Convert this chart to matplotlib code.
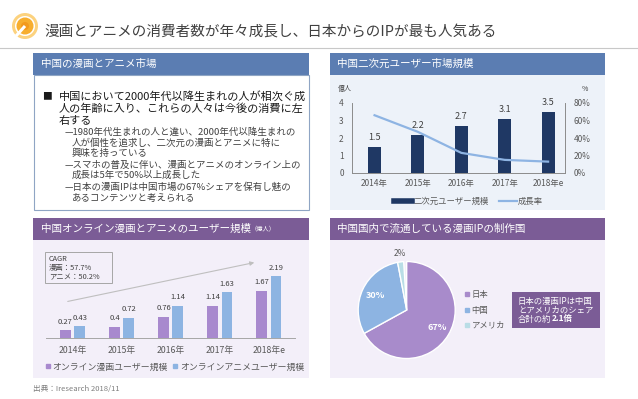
import matplotlib
matplotlib.use('Agg')
import matplotlib.pyplot as plt
from matplotlib.patches import Rectangle, Circle
from matplotlib.lines import Line2D
import numpy as np

plt.rcParams['font.family'] = ['Noto Sans CJK JP', 'DejaVu Sans']

# ---- data ----
years = ['2014年', '2015年', '2016年', '2017年', '2018年e']
acgUsers = [1.5, 2.2, 2.7, 3.1, 3.5]          # 億人
acgGrowth = [0.66, 0.47, 0.23, 0.15, 0.13]    # 成長率
mangaUsers = [0.27, 0.4, 0.76, 1.14, 1.67]    # 億人
animeUsers = [0.43, 0.72, 1.14, 1.63, 2.19]   # 億人
ipCountries = ['日本', '中国', 'アメリカ']
ipShare = [0.67, 0.30, 0.02]

W, H = 638, 399
blueHead = '#5B7DB2'
purpleHead = '#7B5C96'
grayText = '#595959'


def pxRect(x0, y0, x1, y1):
    # pixel box (top-left origin) -> figure fraction
    return [x0 / W, 1 - y1 / H, (x1 - x0) / W, (y1 - y0) / H]


fig = plt.figure(figsize=(W / 100, H / 100), dpi=100)
fig.patch.set_facecolor('white')
bg = fig.add_axes([0, 0, 1, 1])
bg.set_xlim(0, W)
bg.set_ylim(H, 0)
bg.axis('off')

# logo + title
bg.add_patch(Circle((25, 26), 13, color='#FCD27E', lw=0))
bg.add_patch(Circle((25, 26), 10, color='white', lw=0))
bg.add_patch(Circle((25, 26), 8.5, color='#F7AE2E', lw=0))
bg.add_patch(Circle((25, 26), 4, color='#F39A1E', lw=0))
bg.plot([25, 16], [26, 36], color='white', lw=2.2, solid_capstyle='butt')
bg.text(44, 32, '漫画とアニメの消費者数が年々成長し、日本からのIPが最も人気ある',
        fontsize=10.5, color='#404040', va='center')
bg.plot([0, W], [48, 48], color='#C8C8C8', lw=0.8)

# panel frames
bg.add_patch(Rectangle((33, 53), 276, 22, color=blueHead, lw=0))
bg.add_patch(Rectangle((33.5, 75), 275, 135, facecolor='white', edgecolor='#8FA5C4', lw=0.8))
bg.add_patch(Rectangle((330, 53), 275, 22, color=blueHead, lw=0))
bg.add_patch(Rectangle((330, 75), 275, 135, color='#EDF2F9', lw=0))
bg.add_patch(Rectangle((33, 218), 276, 22, color=purpleHead, lw=0))
bg.add_patch(Rectangle((33, 240), 276, 138, color='#F3EFF9', lw=0))
bg.add_patch(Rectangle((330, 218), 275, 22, color=purpleHead, lw=0))
bg.add_patch(Rectangle((330, 240), 275, 138, color='#F3EFF9', lw=0))

bg.text(41, 64, '中国の漫画とアニメ市場', color='white', fontsize=7.6, va='center')
bg.text(337, 64, '中国二次元ユーザー市場規模', color='white', fontsize=7.6, va='center')
hdr = bg.text(41, 229, '中国オンライン漫画とアニメのユーザー規模', color='white', fontsize=7.6, va='center')
bg.annotate('（億人）', xy=(1, 0.15), xycoords=hdr, color='white', fontsize=4.5, va='bottom')
bg.text(337, 229, '中国国内で流通している漫画IPの制作国', color='white', fontsize=7.6, va='center')

# text block
bg.text(42, 96, '■', fontsize=7, color='#1A1A1A', va='center')
mainLines = ['中国において2000年代以降生まれの人が相次ぐ成',
             '人の年齢に入り、これらの人々は今後の消費に左',
             '右する']
for i, s in enumerate(mainLines):
    bg.text(59, 96 + 12.5 * i, s, fontsize=8, color='#1A1A1A', va='center')
subLines = [(65, 132, '—1980年代生まれの人と違い、2000年代以降生まれの'),
            (72, 143, '人が個性を追求し、二次元の漫画とアニメに特に'),
            (72, 153, '興味を持っている'),
            (65, 165, '—スマホの普及に伴い、漫画とアニメのオンライン上の'),
            (72, 175, '成長は5年で50%以上成長した'),
            (65, 187, '—日本の漫画IPは中国市場の67%シェアを保有し魅の'),
            (72, 198, 'あるコンテンツと考えられる')]
for x0, y0, s in subLines:
    bg.text(x0, y0, s, fontsize=6.8, color='#404040', va='center')

bg.text(33, 389, '出典：Iresearch 2018/11', fontsize=5.5, color='#7F7F7F', va='center')

x = np.arange(len(years))

# ---- 中国二次元ユーザー市場規模 ----
ax1 = fig.add_axes(pxRect(352, 103, 565, 173))
ax1.patch.set_alpha(0)
ax1.bar(x, acgUsers, width=0.3, color='#1F3864', zorder=2)
for i, v in enumerate(acgUsers):
    ax1.annotate(str(v), (x[i], v), xytext=(0, 6.5), textcoords='offset points',
                 ha='center', va='center', fontsize=6.5, color='#404040')
ax1.set_xlim(-0.52, 4.39)
ax1.set_ylim(0, 4)
ax1.set_yticks([0, 1, 2, 3, 4])
ax1.set_xticks(x, years)
ax2 = ax1.twinx()
ax2.plot(x, acgGrowth, color='#8EB4E3', lw=1.6)
ax2.set_ylim(0, 0.8)
ax2.set_yticks([0, 0.2, 0.4, 0.6, 0.8], ['0%', '20%', '40%', '60%', '80%'])
for a in (ax1, ax2):
    a.tick_params(length=0, labelsize=6, labelcolor=grayText)
    a.spines['top'].set_visible(False)
    for sp in ('left', 'right', 'bottom'):
        a.spines[sp].set_color('#8C8C8C')
        a.spines[sp].set_linewidth(0.6)
ax1.tick_params(axis='y', pad=6)
ax2.tick_params(axis='y', pad=6)
ax1.tick_params(axis='x', pad=4)
bg.text(338, 89, '億人', fontsize=5, color='#404040', va='center')
bg.text(582, 89, '%', fontsize=5, color='#404040', va='center')
h1 = [Line2D([], [], color='#1F3864', lw=4), Line2D([], [], color='#8EB4E3', lw=1.6)]
ax1.legend(h1, ['二次元ユーザー規模', '成長率'], loc='center', bbox_to_anchor=(0.547, -0.4),
           ncol=2, frameon=False, fontsize=6, labelcolor=grayText, handlelength=2.2,
           handletextpad=0.1, columnspacing=1.2)

# ---- オンライン漫画とアニメのユーザー規模 ----
ax3 = fig.add_axes(pxRect(46, 252, 295, 338))
ax3.patch.set_alpha(0)
ax3.bar(x - 0.145, mangaUsers, 0.22, color='#A889CE')
ax3.bar(x + 0.145, animeUsers, 0.22, color='#8DB4E2')
for i in range(len(years)):
    ax3.annotate(str(mangaUsers[i]), (x[i] - 0.145, mangaUsers[i]), xytext=(0, 6),
                 textcoords='offset points', ha='center', va='center', fontsize=5.5, color='#404040')
    ax3.annotate(str(animeUsers[i]), (x[i] + 0.145, animeUsers[i]), xytext=(0, 6),
                 textcoords='offset points', ha='center', va='center', fontsize=5.5, color='#404040')
ax3.set_xlim(-0.54, 4.53)
ax3.set_ylim(0, 3.04)
ax3.set_yticks([])
ax3.set_xticks(x, years)
ax3.tick_params(length=0, labelsize=6.3, labelcolor=grayText, pad=6)
for sp in ('left', 'right', 'top'):
    ax3.spines[sp].set_visible(False)
ax3.spines['bottom'].set_color('#A6A6A6')
ax3.spines['bottom'].set_linewidth(0.7)
h3 = [Line2D([], [], marker='s', ms=3, ls='none', color='#A889CE'),
      Line2D([], [], marker='s', ms=3, ls='none', color='#8DB4E2')]
ax3.legend(h3, ['オンライン漫画ユーザー規模', 'オンラインアニメユーザー規模'], loc='center',
           bbox_to_anchor=(0.516, -0.337), ncol=2, frameon=False, fontsize=6.4,
           labelcolor=grayText, handlelength=0.6, handletextpad=0.2, columnspacing=0.6)

# CAGR box and trend arrow
bg.add_patch(Rectangle((45, 252), 67, 31, facecolor='none', edgecolor='#A6A6A6', lw=0.7))
bg.text(49, 259, 'CAGR', fontsize=5.3, color='#404040', va='center')
bg.text(49, 268, '漫画：57.7%', fontsize=5.3, color='#404040', va='center')
bg.text(49, 277, 'アニメ：50.2%', fontsize=5.3, color='#404040', va='center')
bg.annotate('', xy=(257, 262), xytext=(65, 302),
            arrowprops=dict(arrowstyle='-|>', color='#BFBFBF', lw=0.8, mutation_scale=6))

# ---- 漫画IPの制作国 ----
pieColors = ['#A88BCB', '#8DB4E2', '#B9DDE6']
ax4 = fig.add_axes(pxRect(358.2, 261.5, 455.2, 358.5))
wedges, _ = ax4.pie(ipShare, colors=pieColors, startangle=90, counterclock=False,
                    normalize=False, wedgeprops=dict(edgecolor='white', linewidth=1))
ax4.set_xlim(-1, 1)
ax4.set_ylim(-1, 1)
for i, w in enumerate(wedges):
    mid = np.deg2rad((w.theta1 + w.theta2) / 2)
    pct = f'{round(ipShare[i] * 100)}%'
    if ipShare[i] > 0.1:
        ax4.text(0.72 * np.cos(mid), 0.72 * np.sin(mid), pct, color='white',
                 fontsize=6.5, fontweight='bold', ha='center', va='center')
    else:
        ax4.text(1.17 * np.cos(mid), 1.17 * np.sin(mid), pct, color=grayText,
                 fontsize=6, ha='center', va='center')
h4 = [Line2D([], [], marker='s', ms=2.5, ls='none', color=c) for c in pieColors]
ax4.legend(h4, ipCountries, loc='center left', bbox_to_anchor=(464 / W, 1 - 310 / H),
           bbox_transform=fig.transFigure, frameon=False, fontsize=6, labelcolor=grayText,
           handlelength=0.6, handletextpad=0.3, labelspacing=0.75, borderpad=0, borderaxespad=0)

bg.add_patch(Rectangle((512, 292), 88, 36, color=purpleHead, lw=0))
bg.text(518, 301, '日本の漫画IPは中国', fontsize=6, color='white', va='center')
bg.text(518, 310, 'とアメリカのシェア', fontsize=6, color='white', va='center')
t = bg.text(518, 319, '合計の約', fontsize=6, color='white', va='center')
bg.annotate('2.1倍', xy=(1, 0.5), xycoords=t, fontsize=6, color='white',
            fontweight='bold', va='center')

fig.savefig('out.png', dpi=100)
